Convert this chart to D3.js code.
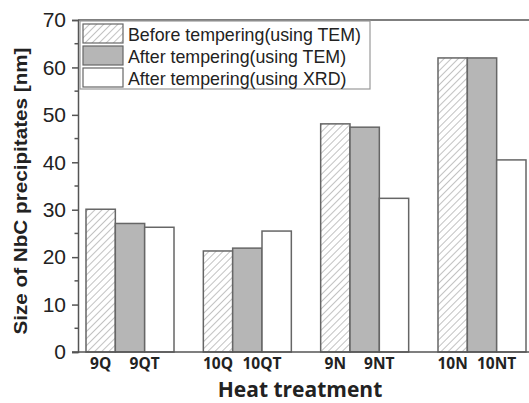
<!DOCTYPE html>
<html><head><meta charset="utf-8">
<script src="https://cdn.jsdelivr.net/npm/d3@7/dist/d3.min.js"></script>
<style>body{margin:0;background:#fff}svg{display:block}</style>
</head><body><svg id="c" width="529" height="403"></svg>
<script>
const groups = ["9Q","10Q","9N","10N"];
const seriesNames = ["Before tempering(using TEM)","After tempering(using TEM)","After tempering(using XRD)"];
const beforeTEM = [30.1, 21.3, 48.1, 62.0];
const afterTEM  = [27.1, 21.9, 47.4, 62.0];
const afterXRD  = [26.3, 25.5, 32.4, 40.5];
const tickLabels = [["9Q","9QT"],["10Q","10QT"],["9N","9NT"],["10N","10NT"]];
const yTicks = [0,10,20,30,40,50,60,70];

(function(){
const svg = d3.select("#c");
const mLeft = 78, mTop = 20, mBottom = 352, mRight = 529;
const defs = svg.append("defs");
const pat = defs.append("pattern").attr("id","hatch").attr("patternUnits","userSpaceOnUse")
  .attr("width",5).attr("height",5).attr("patternTransform","rotate(45)");
pat.append("rect").attr("width",5).attr("height",5).attr("fill","#fff");
pat.append("line").attr("x1",0).attr("y1",0).attr("x2",0).attr("y2",5).attr("stroke","#a8a8a8").attr("stroke-width",1.4);

const y = d3.scaleLinear().domain([0,70]).range([mBottom, mTop]);
const x0 = d3.scaleBand().domain(groups).range([86, 526]).paddingInner(0.25).paddingOuter(0);
const x1 = d3.scaleBand().domain([0,1,2]).range([0, x0.bandwidth()]);
const fills = ["url(#hatch)", "#b6b6b6", "#ffffff"];
const data = [beforeTEM, afterTEM, afterXRD];

groups.forEach((g, gi) => {
  data.forEach((s, si) => {
    svg.append("rect")
      .attr("x", x0(g) + x1(si))
      .attr("y", y(s[gi]))
      .attr("width", x1.bandwidth())
      .attr("height", y(0) - y(s[gi]))
      .attr("fill", fills[si])
      .attr("stroke", "#666").attr("stroke-width", 1.5);
  });
});

svg.append("line").attr("x1",mLeft).attr("x2",mRight).attr("y1",mTop).attr("y2",mTop).attr("stroke","#555").attr("stroke-width",1.5);

const yAxis = d3.axisLeft(y).tickValues(yTicks).tickSize(6).tickPadding(6);
const ga = svg.append("g").attr("transform",`translate(${mLeft},0)`).call(yAxis);
ga.select(".domain").attr("stroke","#555").attr("stroke-width",1.5);
ga.selectAll(".tick line").attr("stroke","#555").attr("stroke-width",1.5);
ga.selectAll("text").attr("font-family","Liberation Sans, Arial, sans-serif").attr("font-size",21).attr("fill","#222");
const minor = d3.range(5, 70, 10);
svg.append("g").selectAll("line").data(minor).join("line")
  .attr("x1",mLeft-3.5).attr("x2",mLeft).attr("y1",d=>y(d)).attr("y2",d=>y(d)).attr("stroke","#555").attr("stroke-width",1.5);

svg.append("line").attr("x1",mLeft-6).attr("x2",mRight).attr("y1",mBottom).attr("y2",mBottom).attr("stroke","#555").attr("stroke-width",1.5);

groups.forEach((g, gi) => {
  const bw = x1.bandwidth();
  [[0.5, tickLabels[gi][0]],[2, tickLabels[gi][1]]].forEach(([off, t]) => {
    svg.append("text").attr("x", x0(g) + off*bw).attr("y", 369)
      .attr("text-anchor","middle").attr("font-family","Open Sans, Noto Sans, sans-serif")
      .attr("font-weight","bold").attr("font-size",15.5).attr("fill","#222").text(t);
  });
});

svg.append("text").attr("x",300).attr("y",397).attr("text-anchor","middle")
  .attr("font-family","Open Sans, Noto Sans, sans-serif").attr("font-weight","bold").attr("font-size",21).attr("fill","#222").text("Heat treatment");
svg.append("text").attr("transform","translate(27,191) rotate(-90)").attr("text-anchor","middle")
  .attr("font-family","Liberation Sans, Arial, sans-serif").attr("font-weight","bold").attr("font-size",19)
  .attr("textLength",287).attr("lengthAdjust","spacingAndGlyphs").attr("fill","#222").text("Size of NbC precipitates [nm]");

const lg = svg.append("g");
lg.append("rect").attr("x",80).attr("y",21).attr("width",290).attr("height",68).attr("fill","#fff").attr("stroke","#999").attr("stroke-width",1.2);
seriesNames.forEach((n, i) => {
  lg.append("rect").attr("x",83).attr("y",24 + i*22).attr("width",40).attr("height",19)
    .attr("fill",fills[i]).attr("stroke","#666").attr("stroke-width",1.2);
  lg.append("text").attr("x",128).attr("y",40.5 + i*22).attr("font-family","Liberation Sans, Arial, sans-serif")
    .attr("font-size",17.8).attr("fill","#222").text(n);
});
})();
</script></body></html>
